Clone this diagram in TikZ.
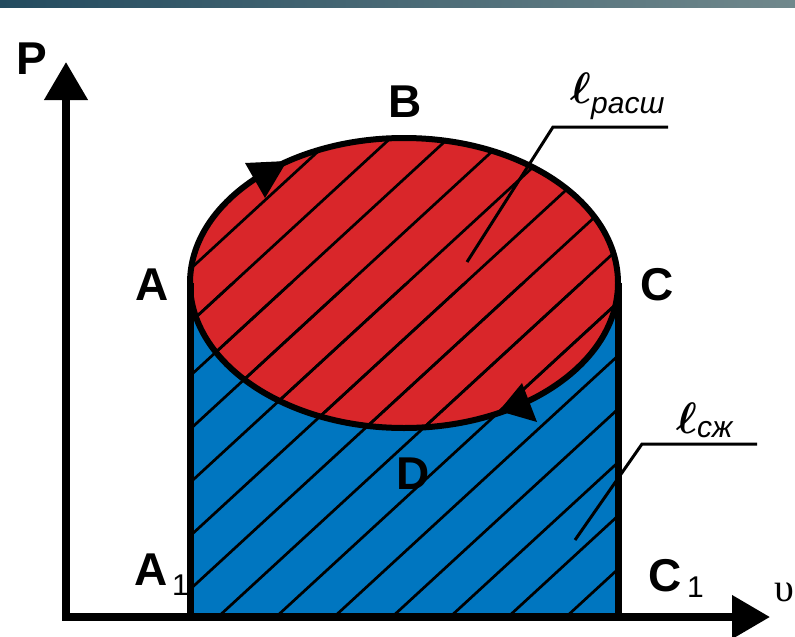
\documentclass[tikz,border=0pt]{standalone}
\usepackage{fontspec}
\usepackage{graphicx}
\setmainfont{Liberation Sans}
\newfontfamily\greekserif{Liberation Serif}
\usetikzlibrary{arrows.meta}
\definecolor{redfill}{RGB}{217,38,42}
\definecolor{bluefill}{RGB}{0,118,192}
\definecolor{bandL}{RGB}{35,75,95}
\definecolor{bandR}{RGB}{112,136,140}
\newcommand{\myhatching}{%
  \foreach \k in {-11,...,9}
    \draw[hatchline] ({218+58*\k-600},{617+600*0.92}) -- ({218+58*\k+600},{617-600*0.92});}
\newcommand{\bigell}{\scalebox{4.4}{\boldmath$\ell$}}
\begin{document}
\begin{tikzpicture}[x=1pt,y=-1pt,
  lbl/.style={font=\fontsize{46}{46}\selectfont\bfseries, inner sep=0pt},
  subone/.style={font=\fontsize{30}{30}\selectfont, inner sep=0pt, anchor=base west},
  axisline/.style={line width=7.5pt, -{Triangle[length=38pt,width=42pt]}},
  hatchline/.style={line width=2.7pt},
  leader/.style={line width=3pt},
  border/.style={line width=6pt},
  wall/.style={line width=7pt},
  ell/.style={inner sep=0pt, anchor=base west},
  sublbl/.style={font=\fontsize{30}{30}\selectfont\itshape, inner sep=0pt, anchor=base west}]
\useasboundingbox (0,0) rectangle (795,637);
\fill[white] (0,0) rectangle (795,637);
\shade[left color=bandL, right color=bandR] (0,0) rectangle (795,7);

% regions
\fill[bluefill] (190,283) rectangle (618,617);
\fill[redfill] (404,283) ellipse [x radius=214pt, y radius=145pt];

% hatching
\begin{scope}
  \clip (190,283) rectangle (618,617);
  \myhatching
\end{scope}
\begin{scope}
  \clip (404,283) ellipse [x radius=214pt, y radius=145pt];
  \myhatching
\end{scope}

% outlines
\draw[border] (404,283) ellipse [x radius=214pt, y radius=145pt];
\draw[wall] (190,617) -- (190,283);
\draw[wall] (618,617) -- (618,283);

% direction arrows on the cycle
\fill (287,161) -- (245,163) -- (265,198) -- cycle;
\fill (499,411) -- (522,383) -- (537,422) -- cycle;

% axes
\coordinate (O) at (66,617);
\coordinate (Ptip) at (66,62);
\coordinate (Vtip) at (770,617);
\draw[axisline] (66,620.75) -- (Ptip);
\draw[axisline] (62.25,617) -- (Vtip);

% labels
\node[lbl] (P) at (32,59) {P};
\node[lbl] (B) at (405,102) {B};
\node[lbl] (A) at (152,285) {A};
\node[lbl] (C) at (657,285) {C};
\node[lbl] (D) at (413,474) {D};
\node[lbl, anchor=base west] (A1) at (134,585) {A};
\node[subone] (A1s) at (172,595) {1};
\node[lbl, anchor=base west] (C1) at (648,591) {C};
\node[subone] (C1s) at (687,597) {1};
\node[font=\greekserif\fontsize{40}{40}\selectfont, inner sep=0pt] (v) at (784,592) {υ};

% leader labels
\node[ell] (lr) at (570,103) {\bigell};
\node[sublbl] (lrs) at (591,113) {расш};
\node[ell] (lc) at (676,433) {\bigell};
\node[sublbl] (lcs) at (697,437) {сж};
\coordinate (lr1) at (668,127);
\coordinate (lr2) at (553,127);
\coordinate (lr3) at (467,262);
\coordinate (lc1) at (757,444);
\coordinate (lc2) at (642,444);
\coordinate (lc3) at (575,540);
\draw[leader] (lr1) -- (lr2) -- (lr3);
\draw[leader] (lc1) -- (lc2) -- (lc3);
\end{tikzpicture}
\end{document}
